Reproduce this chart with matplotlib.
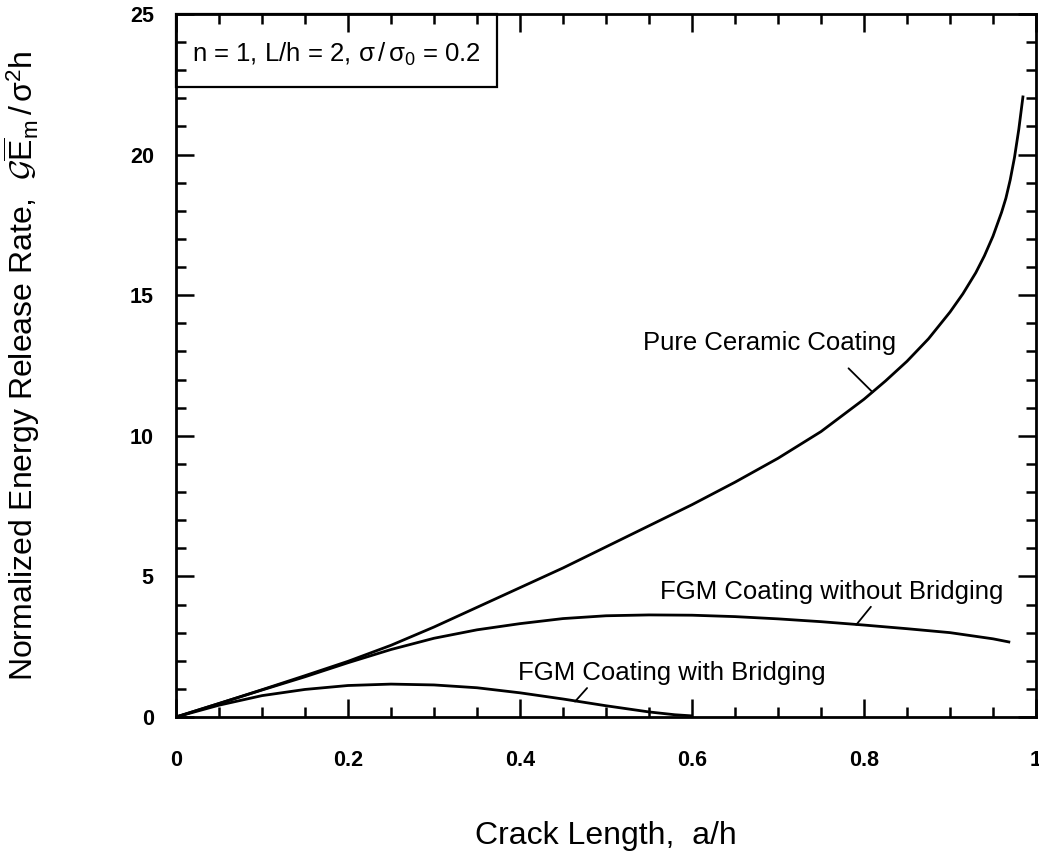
import numpy as np
import matplotlib
matplotlib.use('Agg')
import matplotlib.pyplot as plt
from matplotlib.patches import Rectangle
from matplotlib.ticker import MultipleLocator

plt.rcParams['font.family'] = ['Liberation Sans', 'DejaVu Sans']
plt.rcParams['mathtext.fontset'] = 'custom'
plt.rcParams['mathtext.rm'] = 'Liberation Sans'
plt.rcParams['mathtext.it'] = 'Liberation Sans:italic'
plt.rcParams['mathtext.cal'] = 'cmsy10'
plt.rcParams['mathtext.default'] = 'regular'

# Pure ceramic coating
a_ceramic = [0, 0.05, 0.1, 0.15, 0.2, 0.25, 0.3, 0.35, 0.4, 0.45, 0.5, 0.55,
             0.6, 0.65, 0.7, 0.75, 0.8, 0.825, 0.85, 0.875, 0.9, 0.915, 0.93,
             0.94, 0.95, 0.96, 0.965, 0.97, 0.975, 0.98, 0.985]
g_ceramic = [0, 0.48, 0.97, 1.47, 1.98, 2.55, 3.2, 3.9, 4.6, 5.3, 6.05, 6.8,
             7.55, 8.35, 9.2, 10.15, 11.3, 11.95, 12.65, 13.45, 14.4, 15.05,
             15.8, 16.4, 17.1, 17.95, 18.45, 19.1, 19.9, 20.9, 22.1]

# FGM coating without bridging
a_nobridge = [0, 0.05, 0.1, 0.15, 0.2, 0.25, 0.3, 0.35, 0.4, 0.45, 0.5, 0.55,
              0.6, 0.65, 0.7, 0.75, 0.8, 0.85, 0.9, 0.95, 0.97]
g_nobridge = [0, 0.48, 0.96, 1.43, 1.93, 2.4, 2.8, 3.1, 3.32, 3.5, 3.6, 3.63,
              3.62, 3.57, 3.49, 3.39, 3.27, 3.14, 3.0, 2.78, 2.66]

# FGM coating with bridging
a_bridge = [0, 0.05, 0.1, 0.15, 0.2, 0.25, 0.3, 0.35, 0.4, 0.45, 0.5, 0.55,
            0.58, 0.6]
g_bridge = [0, 0.42, 0.76, 0.98, 1.12, 1.17, 1.14, 1.04, 0.86, 0.64, 0.4, 0.18,
            0.08, 0.04]

x_ticks = [0, 0.2, 0.4, 0.6, 0.8, 1.0]
x_ticklabels = ['0', '0.2', '0.4', '0.6', '0.8', '1']
y_ticks = [0, 5, 10, 15, 20, 25]


def gen():
   fig = plt.figure(figsize=(10.39, 8.56), dpi=100)
   ax = fig.add_axes([176 / 1039, 139 / 856, 860 / 1039, 703 / 856])

   for a, g in ((a_ceramic, g_ceramic), (a_nobridge, g_nobridge),
                (a_bridge, g_bridge)):
      ax.plot(a, g, color='black', linewidth=2.0, clip_on=False,
              solid_capstyle='butt', solid_joinstyle='round')

   ax.set_xlim(0, 1)
   ax.set_ylim(0, 25)
   ax.set_xticks(x_ticks)
   ax.set_xticklabels(x_ticklabels)
   ax.set_yticks(y_ticks)
   ax.xaxis.set_minor_locator(MultipleLocator(0.05))
   ax.yaxis.set_minor_locator(MultipleLocator(1))
   ax.tick_params(which='both', direction='in', top=True, right=True,
                  width=1.8, labelsize=15.5)
   ax.tick_params(which='major', length=13)
   ax.tick_params(which='minor', length=7)
   ax.tick_params(axis='x', which='major', pad=24)
   ax.tick_params(axis='y', which='major', pad=16)
   for lab in ax.get_xticklabels() + ax.get_yticklabels():
      lab.set_fontweight('bold')
   for s in ax.spines.values():
      s.set_linewidth(2.0)

   ax.set_xlabel('Crack Length,  a/h', fontsize=23)
   ax.xaxis.set_label_coords(0.5, -0.148)
   ax.set_ylabel(r'Normalized Energy Release Rate,  '
                 r'$\mathcal{G}\overline{E}_{m}\,/\,\sigma^{2}h$', fontsize=23)
   ax.yaxis.set_label_coords(-0.156, 0.5)

   # Curve labels with short leader lines
   line = dict(arrowstyle='-', color='black', lw=1.3, shrinkA=0, shrinkB=0)
   ax.text(0.69, 13.3, 'Pure Ceramic Coating', ha='center', va='center',
           fontsize=18.5)
   ax.annotate('', xy=(0.81, 11.55), xytext=(0.782, 12.4), arrowprops=line)

   ax.text(0.763, 4.45, 'FGM Coating without Bridging', ha='center',
           va='center', fontsize=18.5)
   ax.annotate('', xy=(0.791, 3.28), xytext=(0.808, 3.92), arrowprops=line)

   ax.text(0.577, 1.57, 'FGM Coating with Bridging', ha='center',
           va='center', fontsize=18.5)
   ax.annotate('', xy=(0.464, 0.55), xytext=(0.478, 1.03), arrowprops=line)

   # Parameter box in the upper-left corner
   t = ax.text(0.0186, 23.57,
               r'n = 1, L/h = 2, $\sigma\,/\,\sigma_0$ = 0.2',
               ha='left', va='center', fontsize=18.5)
   fig.canvas.draw()
   bb = t.get_window_extent().transformed(ax.transAxes.inverted())
   right = bb.x1 + 16 / 860
   bottom = (717 - 87) / 703
   ax.add_patch(Rectangle((0, bottom), right, 1 - bottom,
                          transform=ax.transAxes, fill=False,
                          edgecolor='black', linewidth=1.6, clip_on=False))

   fig.savefig('out.png', dpi=100)
   plt.close(fig)


if __name__ == '__main__':
   gen()
